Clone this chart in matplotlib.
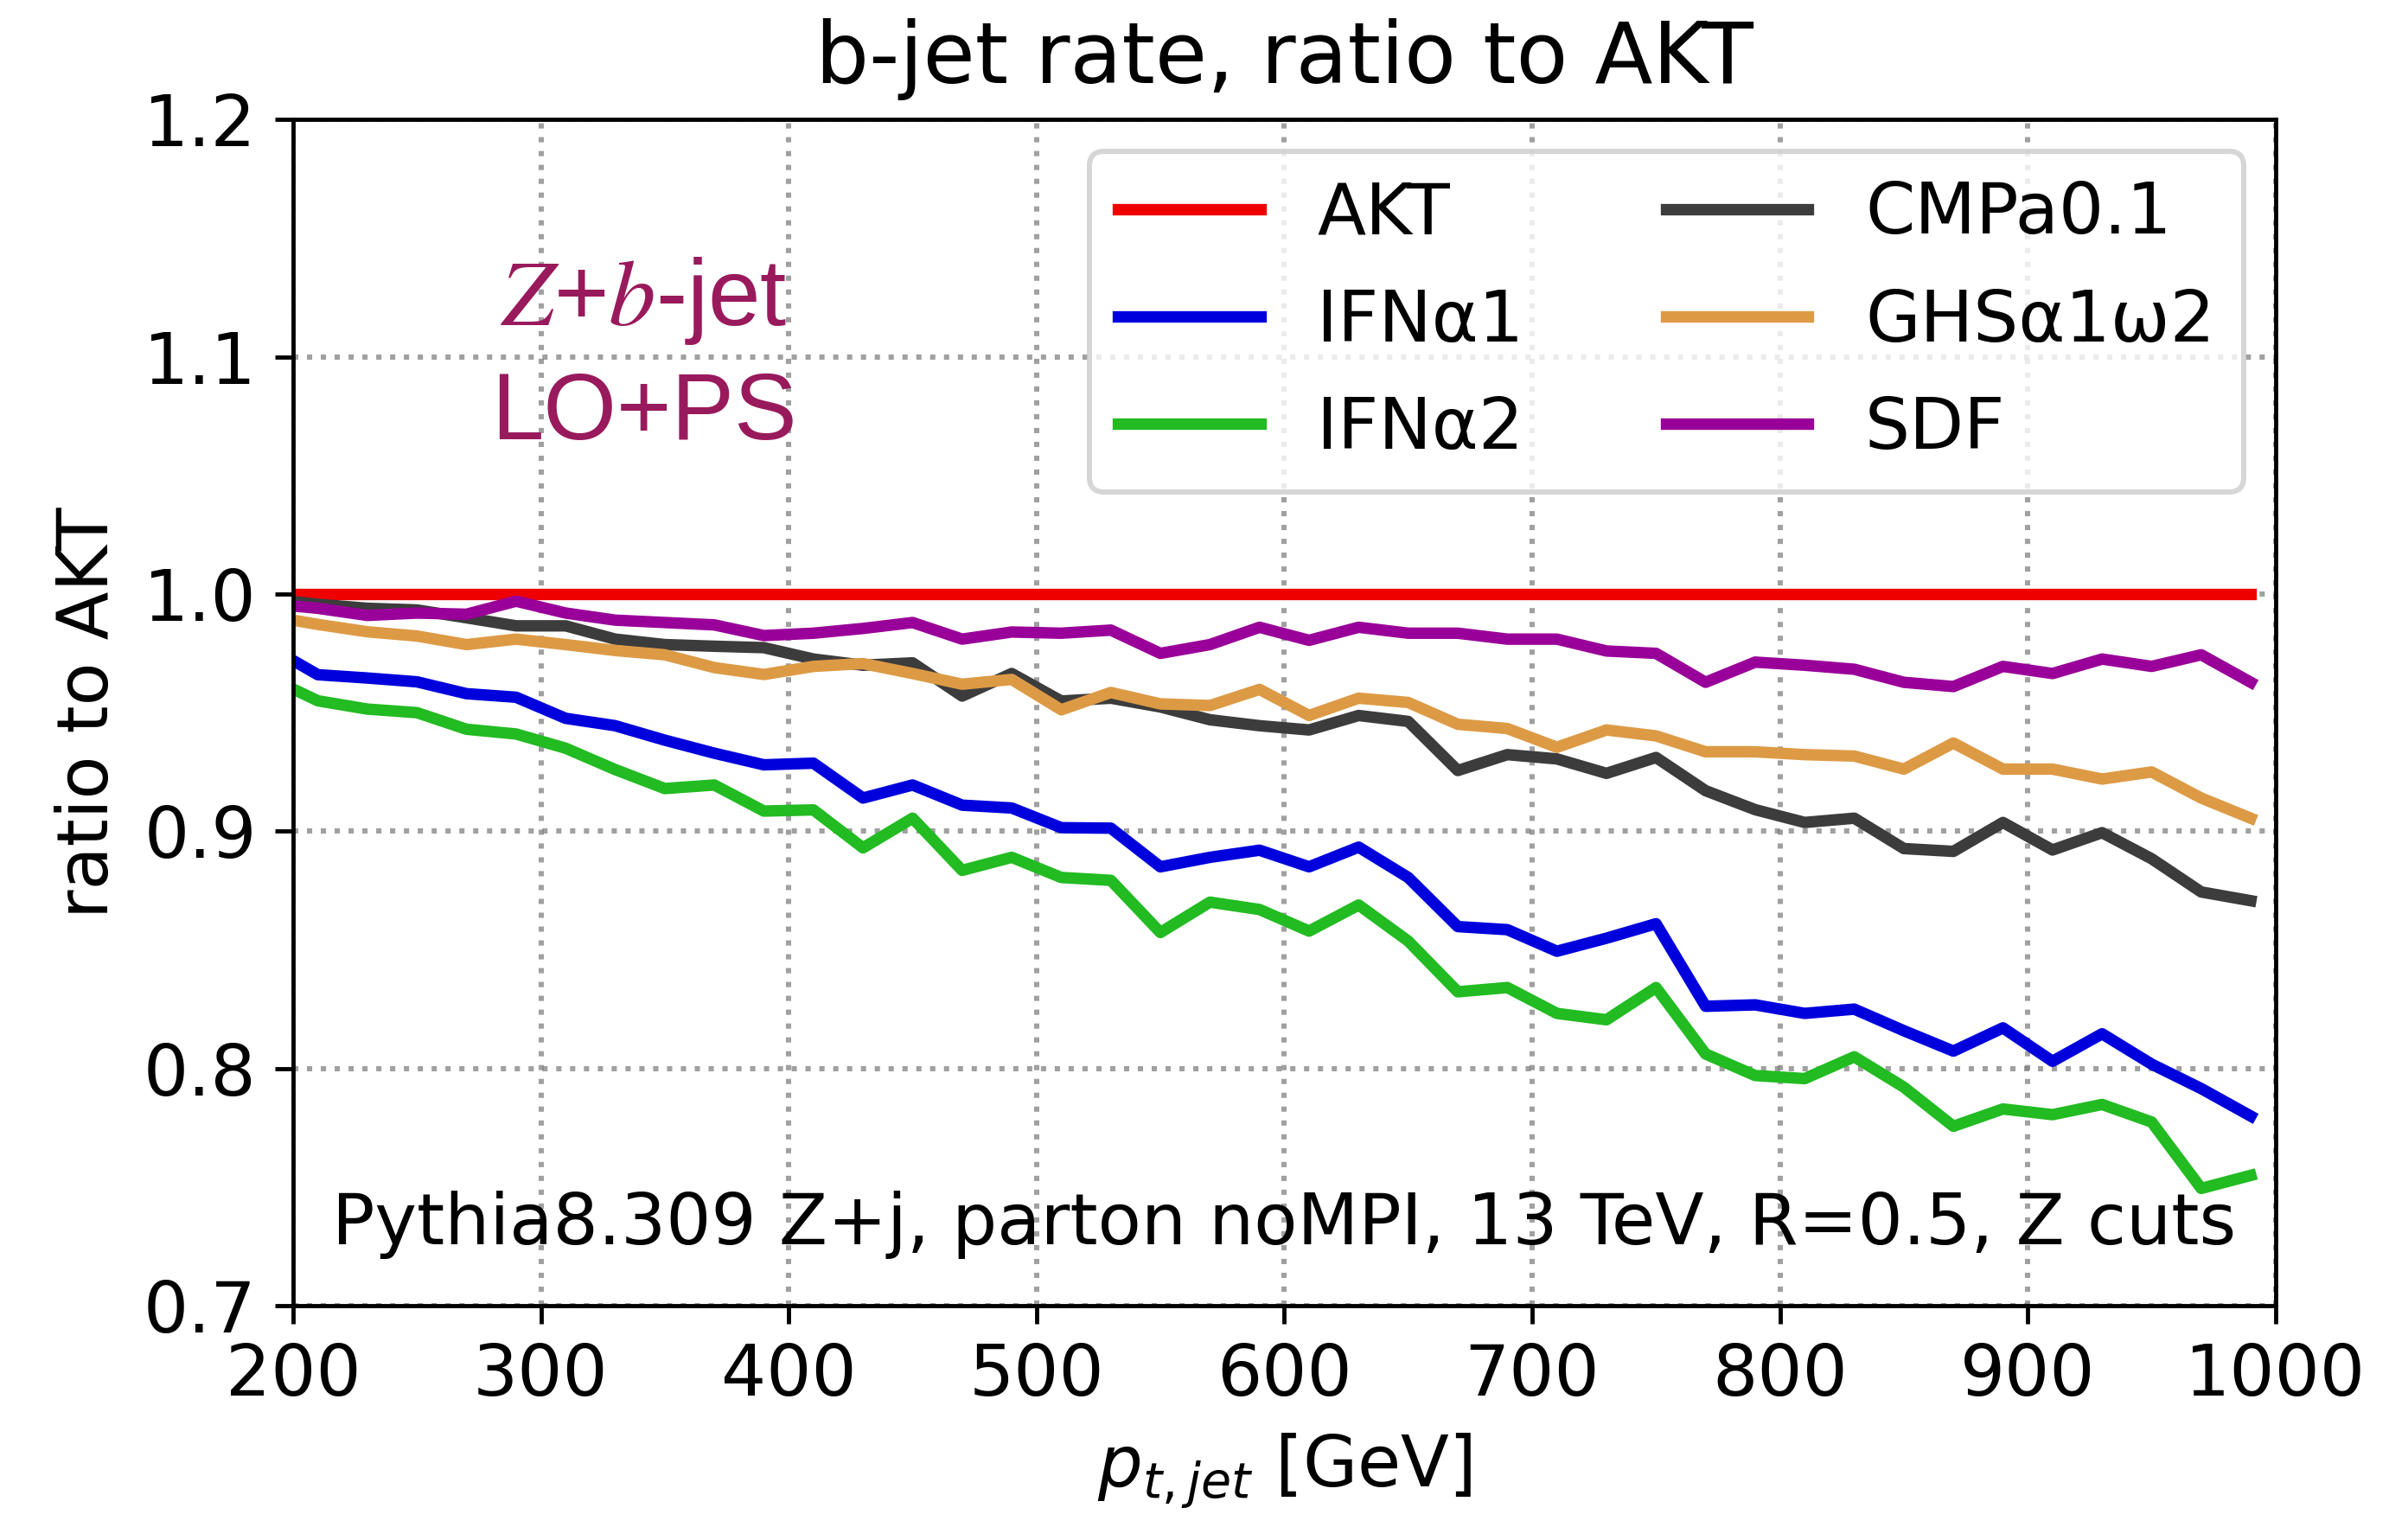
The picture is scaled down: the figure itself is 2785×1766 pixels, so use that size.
import numpy as np
import matplotlib
matplotlib.use("Agg")
import matplotlib.pyplot as plt

# jet pt bin centres (20 GeV bins); first bin sits just left of the plotted range
pt = [190, 210, 230, 250, 270, 290, 310, 330, 350, 370,
      390, 410, 430, 450, 470, 490, 510, 530, 550, 570,
      590, 610, 630, 650, 670, 690, 710, 730, 750, 770,
      790, 810, 830, 850, 870, 890, 910, 930, 950, 970, 990]

akt = [1.0] * len(pt)

ifn_a1 = [0.978, 0.966, 0.9646, 0.963, 0.958, 0.9565, 0.9476, 0.9445, 0.9384, 0.9329,
          0.928, 0.9287, 0.914, 0.9195, 0.911, 0.9098, 0.9015, 0.9013, 0.885, 0.889,
          0.892, 0.885, 0.8933, 0.8805, 0.8598, 0.8585, 0.8494, 0.8549, 0.861, 0.8262,
          0.8268, 0.8232, 0.825, 0.8159, 0.8073, 0.8171, 0.803, 0.8146, 0.8018, 0.7915, 0.7799]

ifn_a2 = [0.965, 0.955, 0.9515, 0.950, 0.943, 0.941, 0.935, 0.926, 0.918, 0.9195,
          0.9085, 0.909, 0.893, 0.9055, 0.8835, 0.889, 0.8805, 0.8793, 0.8573, 0.8701,
          0.867, 0.8579, 0.8689, 0.8537, 0.8323, 0.8341, 0.8232, 0.8205, 0.8341, 0.8061,
          0.797, 0.7957, 0.8049, 0.7921, 0.7756, 0.7829, 0.7805, 0.7848, 0.7774, 0.7494, 0.7549]

cmp_a01 = [0.998, 0.9957, 0.994, 0.9933, 0.990, 0.9866, 0.9866, 0.981, 0.9787, 0.978,
           0.9774, 0.9726, 0.970, 0.971, 0.957, 0.9665, 0.9549, 0.9561, 0.9524, 0.947,
           0.9445, 0.9427, 0.9488, 0.9463, 0.9256, 0.9323, 0.9305, 0.9244, 0.9311, 0.9171,
           0.9091, 0.9037, 0.9055, 0.8927, 0.8915, 0.9037, 0.8921, 0.8994, 0.8884, 0.8744, 0.8707]

ghs = [0.9908, 0.9872, 0.9841, 0.9823, 0.9787, 0.981, 0.9787, 0.9762, 0.9744, 0.969,
       0.9661, 0.9695, 0.9707, 0.9665, 0.962, 0.964, 0.9512, 0.9585, 0.9537, 0.953,
       0.9598, 0.9488, 0.9561, 0.9543, 0.9451, 0.9433, 0.9354, 0.9427, 0.9402, 0.9335,
       0.9335, 0.9323, 0.9317, 0.9262, 0.9372, 0.9262, 0.9262, 0.922, 0.925, 0.914, 0.9055]

sdf = [0.996, 0.994, 0.991, 0.992, 0.9915, 0.997, 0.992, 0.989, 0.988, 0.987,
       0.9825, 0.9835, 0.9855, 0.988, 0.981, 0.984, 0.9835, 0.9848, 0.975, 0.9787,
       0.986, 0.9805, 0.986, 0.9835, 0.9835, 0.981, 0.981, 0.976, 0.975, 0.9628,
       0.9713, 0.970, 0.9683, 0.9628, 0.961, 0.9695, 0.9665, 0.9726, 0.9695, 0.9744, 0.9628]

series = [
    ("AKT", akt, "#ee0000"),
    ("IFNα1", ifn_a1, "#0000dd"),
    ("IFNα2", ifn_a2, "#22bb22"),
    ("CMPa0.1", cmp_a01, "#3c3c3c"),
    ("GHSα1ω2", ghs, "#dd9a45"),
    ("SDF", sdf, "#990099"),
]

W, H = 2785, 1766
fig = plt.figure(figsize=(6.4, 6.4 * H / W))
ax = fig.add_axes([0.1217, 0.145, 0.8233, 0.7766])

for name, vals, col in series:
    ax.plot(pt, vals, color=col, lw=2.2, label=name)

ax.set_xlim(200, 1000)
ax.set_ylim(0.7, 1.2)
ax.set_xticks(np.arange(200, 1001, 100))
ax.set_yticks(np.arange(0.7, 1.21, 0.1))
ax.tick_params(labelsize=13.6)
ax.grid(True, linestyle=":", color="gray", alpha=0.75, lw=1.0)

ax.set_title("b-jet rate, ratio to AKT", fontsize=16.2, pad=7)
ax.set_xlabel(r"$p_{t,jet}$ [GeV]", fontsize=13.5)
ax.set_ylabel("ratio to AKT", fontsize=13.5)

ax.legend(ncol=2, loc="upper right", fontsize=13.6, handlelength=2.0,
          columnspacing=2.0, labelspacing=0.55, borderaxespad=0.45)

ax.text(0.177, 0.80, "$Z$+$b$-jet\nLO+PS", transform=ax.transAxes,
        ha="center", va="center", fontsize=18, color="#991a5c",
        family="Liberation Sans", math_fontfamily="stix", linespacing=1.35)

ax.text(0.98, 0.052, "Pythia8.309 Z+j, parton noMPI, 13 TeV, R=0.5, Z cuts",
        transform=ax.transAxes, ha="right", va="baseline", fontsize=13.6)

fig.savefig("out.png", dpi=W / 6.4)
